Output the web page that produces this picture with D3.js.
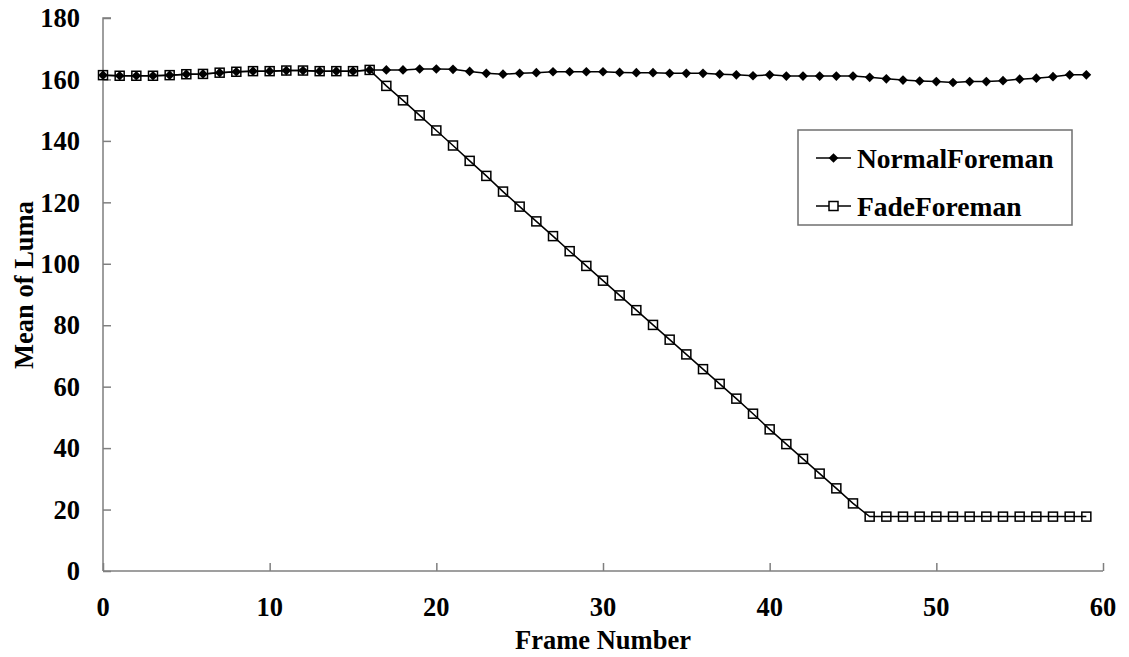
<!DOCTYPE html>
<html>
<head>
<meta charset="utf-8">
<script src="https://cdn.jsdelivr.net/npm/d3@7"></script>
<style>
  html, body { margin: 0; padding: 0; background: #fff; }
  svg text { font-family: "Liberation Serif", "Times New Roman", serif; font-weight: bold; fill: #000; }
</style>
</head>
<body>
<svg id="chart" width="1129" height="657"></svg>
<script>
// Frame indices 0..59
const frames = d3.range(0, 60);

// Mean luma per frame, unmodified sequence
const normalForeman = [
  161.4, 161.2, 161.2, 161.2, 161.4, 161.7, 161.8, 162.2, 162.5, 162.7,
  162.7, 162.9, 162.9, 162.7, 162.7, 162.7, 163.1, 163.1, 163.1, 163.4,
  163.4, 163.3, 162.6, 162.0, 161.7, 162.0, 162.2, 162.5, 162.5, 162.5,
  162.5, 162.3, 162.2, 162.2, 162.0, 162.0, 162.0, 161.7, 161.5, 161.2,
  161.5, 161.1, 161.1, 161.1, 161.1, 161.1, 160.7, 160.2, 159.8, 159.5,
  159.3, 159.0, 159.3, 159.3, 159.6, 160.1, 160.4, 160.9, 161.5, 161.5
];

// Mean luma per frame, sequence with fade-out from frame 17
const fadeForeman = [
  161.4, 161.2, 161.2, 161.2, 161.4, 161.7, 161.8, 162.2, 162.5, 162.7,
  162.7, 162.9, 162.9, 162.7, 162.7, 162.7, 163.1, 157.9, 153.2, 148.3,
  143.4, 138.5, 133.5, 128.6, 123.5, 118.6, 113.8, 109.0, 104.1, 99.3,
  94.5, 89.7, 84.9, 80.1, 75.3, 70.5, 65.7, 60.9, 56.1, 51.2,
  46.1, 41.3, 36.5, 31.7, 26.9, 22.0, 17.7, 17.7, 17.7, 17.7,
  17.7, 17.7, 17.7, 17.7, 17.7, 17.7, 17.7, 17.7, 17.7, 17.7
];

const xTicks = [0, 10, 20, 30, 40, 50, 60];
const yTicks = [0, 20, 40, 60, 80, 100, 120, 140, 160, 180];
const seriesNames = ["NormalForeman", "FadeForeman"];

const svg = d3.select("#chart");
const plot = { left: 103, right: 1103, top: 18, bottom: 571 };

const x = d3.scaleLinear().domain([0, 60]).range([plot.left, plot.right]);
const y = d3.scaleLinear().domain([0, 180]).range([plot.bottom, plot.top]);

const axisColor = "#7f7f7f";

// Y axis: ticks pointing inward
const yAxis = svg.append("g")
  .attr("transform", `translate(${plot.left},0)`)
  .call(d3.axisRight(y).tickValues(yTicks).tickSize(8).tickFormat(""));
yAxis.select(".domain").attr("stroke", axisColor).attr("stroke-width", 1.5).attr("d", `M8,${plot.top}H0V${plot.bottom}`);
yAxis.selectAll(".tick line").attr("stroke", axisColor).attr("stroke-width", 1.5);

svg.append("g").selectAll("text").data(yTicks).join("text")
  .attr("x", 80).attr("y", d => y(d)).attr("dy", "0.35em")
  .attr("text-anchor", "end").attr("font-size", 26.5)
  .text(d => d);

// X axis: ticks pointing upward
const xAxis = svg.append("g")
  .attr("transform", `translate(0,${plot.bottom})`)
  .call(d3.axisTop(x).tickValues(xTicks).tickSize(8).tickFormat(""));
xAxis.select(".domain").attr("stroke", axisColor).attr("stroke-width", 1.5).attr("d", `M${plot.left},0H${plot.right}`);
xAxis.selectAll(".tick line").attr("stroke", axisColor).attr("stroke-width", 1.5);

svg.append("g").selectAll("text").data(xTicks).join("text")
  .attr("x", d => x(d)).attr("y", 607).attr("dy", "0.35em")
  .attr("text-anchor", "middle").attr("font-size", 26.5)
  .text(d => d);

// Axis titles
svg.append("text").attr("x", x(30)).attr("y", 640).attr("dy", "0.35em")
  .attr("text-anchor", "middle").attr("font-size", 26.5).text("Frame Number");
svg.append("text")
  .attr("transform", `translate(24,285) rotate(-90)`)
  .attr("dy", "0.35em").attr("text-anchor", "middle").attr("font-size", 26.5)
  .text("Mean of Luma");

const line = d3.line().x((d, i) => x(frames[i])).y(d => y(d));

const diamond = d3.symbol().type(d3.symbolDiamond2).size(60);

// Normal series: line with filled diamonds
svg.append("path").datum(normalForeman)
  .attr("fill", "none").attr("stroke", "#000").attr("stroke-width", 1.5)
  .attr("d", line);
svg.append("g").selectAll("path").data(normalForeman).join("path")
  .attr("transform", (d, i) => `translate(${x(frames[i])},${y(d)})`)
  .attr("d", diamond).attr("fill", "#000");

// Fade series: line with open squares
svg.append("path").datum(fadeForeman)
  .attr("fill", "none").attr("stroke", "#000").attr("stroke-width", 1.5)
  .attr("d", line);
svg.append("g").selectAll("rect").data(fadeForeman).join("rect")
  .attr("x", (d, i) => x(frames[i]) - 4.5).attr("y", d => y(d) - 4.5)
  .attr("width", 9).attr("height", 9)
  .attr("fill", "none").attr("stroke", "#000").attr("stroke-width", 1.5);

// Legend
const legend = svg.append("g");
legend.append("rect").attr("x", 798).attr("y", 130).attr("width", 274).attr("height", 95)
  .attr("fill", "#fff").attr("stroke", "#6f6f6f").attr("stroke-width", 1.5);
const rows = [158, 206];
seriesNames.forEach((name, k) => {
  const g = legend.append("g").attr("transform", `translate(0,${rows[k]})`);
  g.append("line").attr("x1", 816).attr("x2", 851).attr("y1", 0).attr("y2", 0)
    .attr("stroke", "#000").attr("stroke-width", 1.5);
  if (k === 0) {
    g.append("path").attr("transform", "translate(833.5,0)").attr("d", diamond).attr("fill", "#000");
  } else {
    g.append("rect").attr("x", 829).attr("y", -4.5).attr("width", 9).attr("height", 9)
      .attr("fill", "#fff").attr("stroke", "#000").attr("stroke-width", 1.5);
  }
  g.append("text").attr("x", 857).attr("y", 0).attr("dy", "0.35em")
    .attr("font-size", 27.5).text(name);
});
</script>
</body>
</html>
